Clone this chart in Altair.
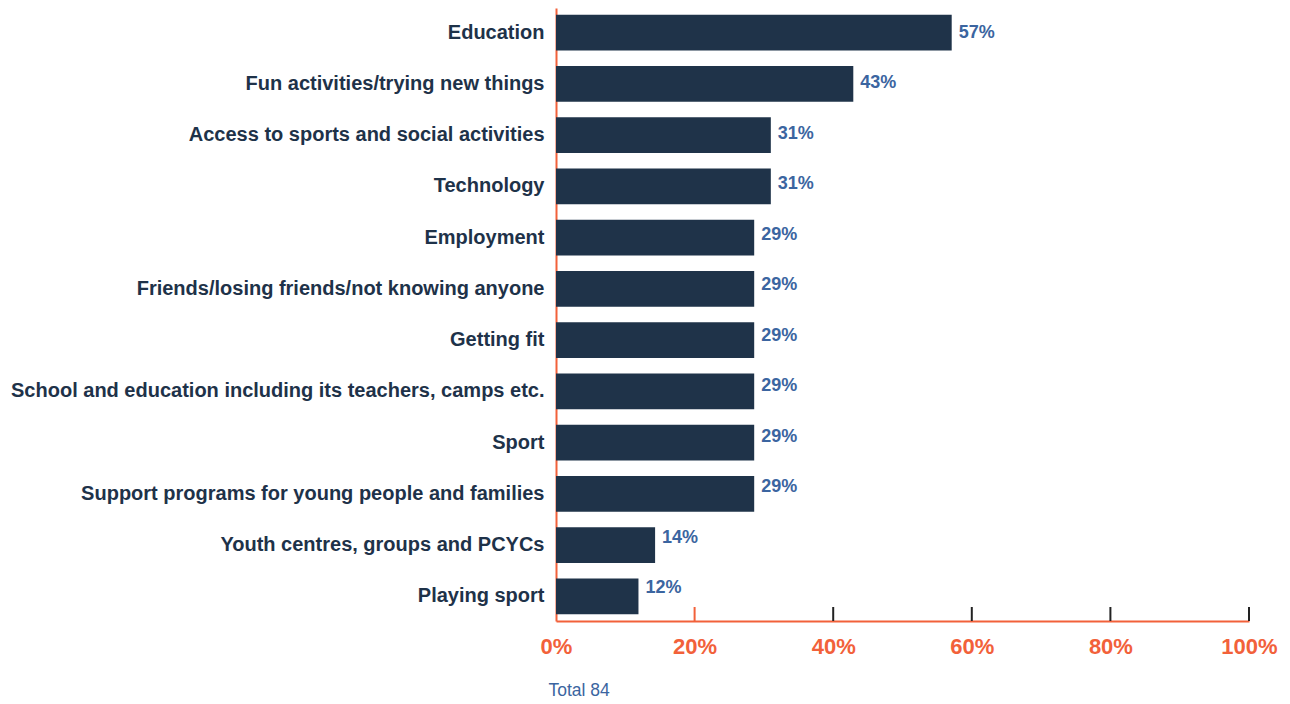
import altair as alt
import pandas as pd

categories = [
    "Education",
    "Fun activities/trying new things",
    "Access to sports and social activities",
    "Technology",
    "Employment",
    "Friends/losing friends/not knowing anyone",
    "Getting fit",
    "School and education including its teachers, camps etc.",
    "Sport",
    "Support programs for young people and families",
    "Youth centres, groups and PCYCs",
    "Playing sport",
]
values = [57.1, 42.9, 31.0, 31.0, 28.6, 28.6, 28.6, 28.6, 28.6, 28.6, 14.3, 11.9]
labels = ["57%", "43%", "31%", "31%", "29%", "29%", "29%", "29%", "29%", "29%", "14%", "12%"]
tick_values = [20, 40, 60, 80, 100]
tick_colors = ["orange", "dark", "dark", "dark", "dark"]

ORANGE = "#F2613A"
BAR = "#1F3349"
LABEL_BLUE = "#3B65A0"

df = pd.DataFrame({"cat": categories, "val": values, "lab": labels})
ticks = pd.DataFrame({"t": tick_values, "c": tick_colors})

W, H = 693, 613

x_scale = alt.Scale(domain=[0, 100], nice=False)
y_enc = alt.Y(
    "cat:N",
    sort=categories,
    scale=alt.Scale(paddingInner=0.3, paddingOuter=0.13),
    axis=alt.Axis(
        title=None,
        labelFont="Liberation Sans",
        labelFontWeight="bold",
        labelFontSize=20,
        labelColor="#1E3249",
        labelPadding=12,
        labelLimit=800,
        ticks=False,
        domainColor=ORANGE,
        domainWidth=2,
    ),
)

bars = alt.Chart(df).mark_bar(color=BAR).encode(
    x=alt.X(
        "val:Q",
        scale=x_scale,
        axis=alt.Axis(
            title="Total 84",
            titleFont="Liberation Sans",
            titleFontWeight="normal",
            titleFontSize=17.5,
            titleColor=LABEL_BLUE,
            titleAnchor="start",
            titleAlign="left",
            titleBaseline="middle",
            titleX=-8,
            titleY=69,
            values=[0, 20, 40, 60, 80, 100],
            labelExpr="datum.value + '%'",
            labelFont="Liberation Sans",
            labelFontWeight="bold",
            labelFontSize=22,
            labelColor=ORANGE,
            labelPadding=15,
            labelFlush=False,
            ticks=False,
            grid=False,
            domainColor=ORANGE,
            domainWidth=2,
        ),
    ),
    y=y_enc,
)

text = alt.Chart(df).mark_text(
    align="left", baseline="middle", dx=7, font="Liberation Sans",
    fontWeight="bold", fontSize=18, color=LABEL_BLUE,
).encode(
    x=alt.X("val:Q", scale=x_scale),
    y=alt.Y("cat:N", sort=categories,
            scale=alt.Scale(type="point", padding=0, range=[25, 580]), axis=None),
    text="lab:N",
)

tick_marks = alt.Chart(ticks).mark_rule(strokeWidth=2).encode(
    x=alt.X("t:Q", scale=x_scale),
    y=alt.value(H - 14),
    y2=alt.value(H),
    color=alt.Color("c:N", scale=alt.Scale(domain=["orange", "dark"], range=[ORANGE, "#222222"]), legend=None),
)

chart = alt.layer(bars, text, tick_marks).resolve_scale(y="independent").properties(
    width=W, height=H,
    autosize=alt.AutoSizeParams(type="none"),
    padding={"left": 548, "top": 0, "right": 30, "bottom": 83},
    background="white",
).configure_view(stroke=None)

chart.save("out.html", embed_options={"renderer": "svg", "actions": False})
